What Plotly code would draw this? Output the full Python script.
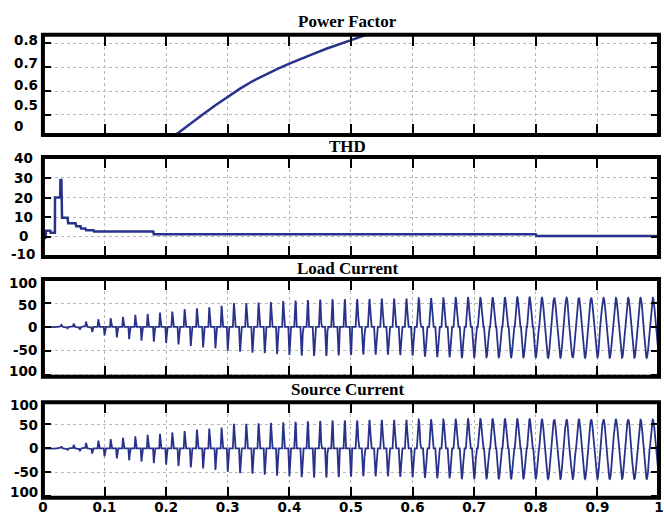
import numpy as np
import plotly.graph_objects as go

# ---- data -----------------------------------------------------------------
# Power factor (rises once the compensator kicks in)
PF_T = [0.215, 0.240, 0.260, 0.280, 0.300, 0.320, 0.340, 0.360, 0.380, 0.400,
        0.420, 0.440, 0.460, 0.480, 0.500, 0.520, 0.540, 0.560]
PF_V = [0.416, 0.466, 0.503, 0.541, 0.577, 0.610, 0.641, 0.668, 0.692, 0.715,
        0.737, 0.757, 0.777, 0.796, 0.814, 0.831, 0.847, 0.862]

# THD (%) – stepwise trace
THD_T = [0.0, 0.004, 0.005, 0.012, 0.0125, 0.0195, 0.0196, 0.028, 0.0285, 0.030, 0.031, 0.040, 0.041,
         0.053, 0.054, 0.061, 0.062, 0.069, 0.070, 0.082, 0.083, 0.179, 0.180, 0.800, 0.801, 1.0]
THD_V = [0.0, -1.0, 3.0, 3.0, 2.0, 2.0, 20.0, 20.0, 29.0, 29.0, 9.6, 9.6, 6.8,
         6.8, 5.3, 5.3, 4.2, 4.2, 3.3, 3.3, 2.6, 2.6, 1.2, 1.2, 0.3, 0.3]

# Per-cycle peak currents (A), one value per 20 ms cycle:
# positive peak of each cycle and the negative peak that follows it
LOAD_POS = [1, 4, 7, 11, 16, 18, 21, 25, 27, 30,
            32, 37, 39, 41, 44, 50, 50, 51, 52, 54,
            55, 56, 57, 58, 58, 58, 58, 59, 59, 59,
            60, 60, 60, 61, 61, 61, 61, 61, 62, 62,
            61, 61, 61, 61, 61, 61, 61, 61, 61, 61]
LOAD_NEG = [1, 3, 6, 11, 18, 22, 26, 29, 31, 34,
            37, 40, 43, 45, 50, 52, 54, 55, 57, 59,
            60, 61, 61, 60, 59, 58, 58, 58, 59, 60,
            62, 63, 63, 64, 64, 64, 64, 64, 64, 64,
            65, 65, 65, 65, 65, 65, 65, 65, 65, 65]
SOURCE_POS = [1, 4, 7, 11, 16, 19, 22, 25, 28, 30,
              33, 36, 39, 41, 43, 51, 51, 52, 53, 54,
              55, 56, 57, 58, 58, 58, 59, 59, 59, 59,
              60, 60, 60, 60, 61, 61, 61, 61, 61, 61,
              60, 60, 60, 60, 60, 60, 60, 60, 60, 60]
SOURCE_NEG = [1, 3, 6, 11, 17, 21, 25, 28, 31, 34,
              37, 40, 42, 45, 49, 52, 53, 55, 57, 58,
              60, 61, 61, 60, 59, 58, 58, 58, 59, 60,
              61, 62, 62, 63, 63, 63, 63, 63, 63, 63,
              64, 64, 64, 64, 64, 64, 64, 64, 64, 64]
# Conduction half-width of each current pulse, as a fraction of the period
PULSE_WIDTH = [0.06] * 10 + [0.07] * 5 + [0.08] * 5 + [0.10] * 5 + [0.12] * 5 + \
              [0.15] * 3 + [0.17] * 2 + [0.20] * 5 + [0.22] * 5 + [0.24] * 5

X_TICKS = [0, 0.1, 0.2, 0.3, 0.4, 0.5, 0.6, 0.7, 0.8, 0.9, 1.0]
X_LABELS = ["0", "0.1", "0.2", "0.3", "0.4", "0.5", "0.6", "0.7", "0.8", "0.9", "1"]

PERIOD = 0.02


def current_wave(pos, neg, widths):
    t = np.linspace(0, 1, 10001)
    y = np.zeros_like(t)
    for k, (ap, an, w) in enumerate(zip(pos, neg, widths)):
        h = w * PERIOD
        for c, a in ((PERIOD * k + PERIOD / 2, ap), (PERIOD * (k + 1), -an)):
            u = (t - c) / h
            m = np.abs(u) < 1
            y[m] += a * np.cos(np.pi / 2 * u[m])
    return t, y


# ---- layout ---------------------------------------------------------------
W, H = 664, 517
LINE = "#28328A"
X_DOM = [38.5 / W, 1.0]
LABEL_FONT = dict(family="DejaVu Sans", size=13.5, color="black", weight="bold")
TITLE_FONT = dict(family="Liberation Serif", size=17, color="black", weight="bold")


def py(px):
    return 1 - px / H


PANELS = [
    dict(title="Power Factor", title_y=21, top=34.7, bot=135.0, rng=[0.416, 0.836],
         grid=[0.5, 0.6, 0.7, 0.8],
         labels=["0.8", "0.7", "0.6", "0.5", "0"], label_y=[40, 63.3, 84.7, 105, 126.5],
         label_x=8, label_anchor="left"),
    dict(title="THD", title_y=146, top=157.0, bot=257.0, rng=[-10.4, 40.7],
         grid=[-10, 0, 10, 20, 30, 40],
         labels=["40", "30", "20", "10", "0", "-10"], label_y=[158.3, 178, 197.8, 217, 236, 254],
         label_x=18.5, label_anchor="center"),
    dict(title="Load Current", title_y=268, top=279.0, bot=376.7, rng=[-104.5, 100.3],
         grid=[-100, -50, 0, 50, 100],
         labels=["100", "50", "0", "-50", "100"], label_y=[283, 305, 326.7, 350, 370.5],
         label_x=33, label_anchor="right"),
    dict(title="Source Current", title_y=389, top=402.3, bot=497.7, rng=[-102.9, 95.8],
         grid=[-100, -50, 0, 50, 100],
         labels=["100", "50", "0", "-50", "100"], label_y=[405, 425, 448, 471.7, 492],
         label_x=34.5, label_anchor="right"),
]

fig = go.Figure()

fig.add_trace(go.Scatter(x=PF_T, y=PF_V, mode="lines", line=dict(color=LINE, width=2.5),
                         xaxis="x", yaxis="y", showlegend=False))
fig.add_trace(go.Scatter(x=THD_T, y=THD_V, mode="lines", line=dict(color=LINE, width=2.5),
                         xaxis="x2", yaxis="y2", showlegend=False))
tl, il = current_wave(LOAD_POS, LOAD_NEG, PULSE_WIDTH)
fig.add_trace(go.Scatter(x=tl, y=il, mode="lines", line=dict(color=LINE, width=1.8),
                         xaxis="x3", yaxis="y3", showlegend=False))
ts, is_ = current_wave(SOURCE_POS, SOURCE_NEG, PULSE_WIDTH)
fig.add_trace(go.Scatter(x=ts, y=is_, mode="lines", line=dict(color=LINE, width=1.8),
                         xaxis="x4", yaxis="y4", showlegend=False))

layout = dict(width=W, height=H, margin=dict(l=0, r=0, t=0, b=0),
              paper_bgcolor="white", plot_bgcolor="white", showlegend=False)
annotations, shapes = [], []

for i, p in enumerate(PANELS, start=1):
    sx = "" if i == 1 else str(i)
    layout["xaxis" + sx] = dict(
        domain=X_DOM, range=[0, 1], anchor="y" + sx,
        tickvals=X_TICKS, ticktext=X_LABELS, showticklabels=(i == 4),
        ticklabeloverflow="allow",
        ticks="inside", ticklen=11, tickwidth=2, tickcolor="black",
        showline=False, mirror="ticks",
        showgrid=True, gridcolor="#b8b8b8", gridwidth=1, griddash="dot",
        zeroline=False, tickfont=LABEL_FONT, fixedrange=True,
    )
    layout["yaxis" + sx] = dict(
        domain=[py(p["bot"]), py(p["top"])], range=p["rng"], anchor="x" + sx,
        tickvals=p["grid"], showticklabels=False,
        ticks="inside", ticklen=8, tickwidth=2, tickcolor="black",
        showline=False, mirror="ticks",
        showgrid=True, gridcolor="#b8b8b8", gridwidth=1, griddash="dot",
        zeroline=False, fixedrange=True,
    )
    # heavy frame around each panel
    shapes.append(dict(type="rect", xref="x" + sx + " domain", yref="y" + sx + " domain",
                       x0=0, x1=1, y0=0, y1=1, line=dict(color="black", width=4),
                       fillcolor="rgba(0,0,0,0)", layer="above"))
    annotations.append(dict(
        text=p["title"], xref="paper", yref="paper", x=348 / W, y=py(p["title_y"]),
        xanchor="center", yanchor="middle", showarrow=False, font=TITLE_FONT,
    ))
    for txt, ly in zip(p["labels"], p["label_y"]):
        annotations.append(dict(
            text=txt, xref="paper", yref="paper", x=p["label_x"] / W, y=py(ly),
            xanchor=p["label_anchor"], yanchor="middle", showarrow=False,
            font=LABEL_FONT, borderpad=0,
        ))

layout["annotations"] = annotations
layout["shapes"] = shapes
fig.update_layout(**layout)
fig.write_html("out.html")
